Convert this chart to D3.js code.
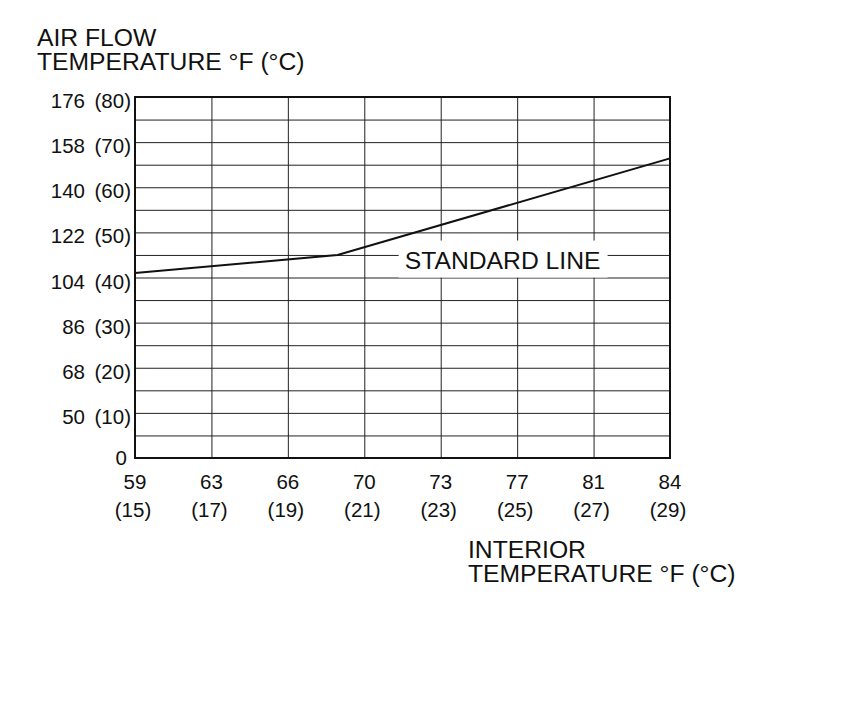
<!DOCTYPE html>
<html>
<head>
<meta charset="utf-8">
<script src="https://cdn.jsdelivr.net/npm/d3@7"></script>
<style>
  body { margin: 0; background: #fff; }
  svg text { font-family: "Liberation Sans", Arial, sans-serif; fill: #111; }
</style>
</head>
<body>
<svg id="vis" width="860" height="724"></svg>
<script>
// tick labels (interior temp on x, air flow temp on y)
var xTicksC = [15, 17, 19, 21, 23, 25, 27, 29];
var xTicksF = ["59", "63", "66", "70", "73", "77", "81", "84"];
var yTicksC = [0, 10, 20, 30, 40, 50, 60, 70, 80];
var yTicksF = ["0", "50", "68", "86", "104", "122", "140", "158", "176"];

// standard line (°C)
var lineInterior = [15, 20.3, 29];
var lineAirFlow = [41, 45, 66.4];

var margin = {t: 97, r: 190, b: 266, l: 135};
var width = 860 - margin.l - margin.r;
var height = 724 - margin.t - margin.b;

var svg = d3.select('#vis');

var x = d3.scaleLinear().domain([15, 29]).range([0, width]);
var y = d3.scaleLinear().domain([0, 80]).range([height, 0]);

var plot = svg.append('g')
    .attr('transform', 'translate(' + margin.l + ',' + margin.t + ')');

// grid: horizontal every 5°C, vertical every 2°C
plot.append('g')
    .attr('class', 'grid-y')
    .call(d3.axisLeft(y).tickValues(d3.range(5, 80, 5)).tickSize(-width).tickFormat(''))
    .call(function(g){ g.select('.domain').remove(); })
    .selectAll('line')
    .attr('stroke', '#222')
    .attr('stroke-width', 1);

plot.append('g')
    .attr('class', 'grid-x')
    .attr('transform', 'translate(0,' + height + ')')
    .call(d3.axisBottom(x).tickValues(xTicksC.slice(1, -1)).tickSize(-height).tickFormat(''))
    .call(function(g){ g.select('.domain').remove(); })
    .selectAll('line')
    .attr('stroke', '#222')
    .attr('stroke-width', 1);

// frame
plot.append('rect')
    .attr('x', 0)
    .attr('y', 0)
    .attr('width', width)
    .attr('height', height)
    .attr('fill', 'none')
    .attr('stroke', '#111')
    .attr('stroke-width', 2);

// standard line
var pts = lineInterior.map(function(d, i){ return [d, lineAirFlow[i]]; });
plot.append('path')
    .datum(pts)
    .attr('fill', 'none')
    .attr('stroke', '#111')
    .attr('stroke-width', 2)
    .attr('d', d3.line().x(function(d){ return x(d[0]); }).y(function(d){ return y(d[1]); }));

// label with white knock-out
var lab = plot.append('g')
    .attr('transform', 'translate(' + x(24.62) + ',' + y(44.2) + ')');
lab.append('rect')
    .attr('x', -104)
    .attr('y', -18)
    .attr('width', 209)
    .attr('height', 37)
    .attr('fill', '#fff');
lab.append('text')
    .attr('y', 10)
    .style('font-size', '24.7px')
    .style('text-anchor', 'middle')
    .text('STANDARD LINE');

// y tick labels: °F then (°C)
var yLab = plot.selectAll('.ylab')
    .data(yTicksC)
    .enter().append('g')
    .attr('class', 'ylab')
    .attr('transform', function(d){ return 'translate(0,' + y(d) + ')'; });

yLab.append('text')
    .attr('x', function(d){ return d === 0 ? -8 : -50; })
    .attr('y', function(d){ return d === 0 ? 7 : 11; })
    .style('font-size', '20.5px')
    .style('text-anchor', 'end')
    .text(function(d, i){ return yTicksF[i]; });

yLab.filter(function(d){ return d !== 0; })
    .append('text')
    .attr('x', -4)
    .attr('y', 11)
    .style('font-size', '20.5px')
    .style('text-anchor', 'end')
    .text(function(d){ return '(' + d + ')'; });

// x tick labels
var xLab = plot.selectAll('.xlab')
    .data(xTicksC)
    .enter().append('g')
    .attr('class', 'xlab')
    .attr('transform', function(d){ return 'translate(' + x(d) + ',' + height + ')'; });

xLab.append('text')
    .attr('y', 31)
    .style('font-size', '20.5px')
    .style('text-anchor', 'middle')
    .text(function(d, i){ return xTicksF[i]; });

xLab.append('text')
    .attr('y', 59)
    .attr('x', -2)
    .style('font-size', '20.5px')
    .style('text-anchor', 'middle')
    .text(function(d){ return '(' + d + ')'; });

// axis titles
var yTitle = svg.append('text')
    .attr('x', 37)
    .attr('y', 46)
    .style('font-size', '24.7px');
yTitle.append('tspan').attr('x', 37).text('AIR FLOW');
yTitle.append('tspan').attr('x', 37).attr('dy', 24).text('TEMPERATURE °F (°C)');

var xTitle = svg.append('text')
    .attr('x', 468)
    .attr('y', 558)
    .style('font-size', '24.7px');
xTitle.append('tspan').attr('x', 468).text('INTERIOR');
xTitle.append('tspan').attr('x', 468).attr('dy', 24).text('TEMPERATURE °F (°C)');
</script>
</body>
</html>
